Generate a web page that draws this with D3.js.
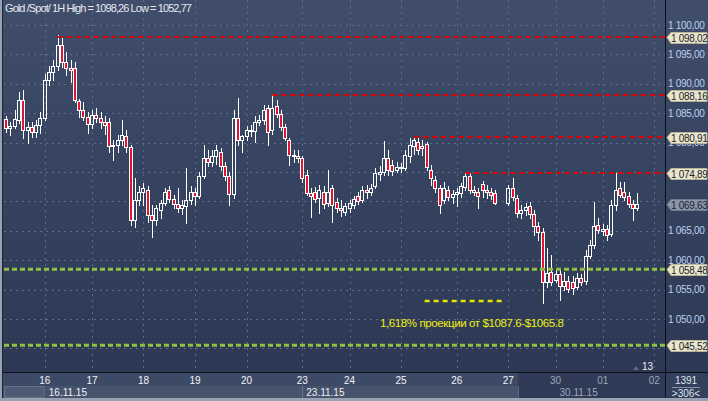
<!DOCTYPE html>
<html><head><meta charset="utf-8">
<script src="https://cdn.jsdelivr.net/npm/d3@7"></script>
<style>body{margin:0;background:#35425d}svg{display:block}text{font-family:"Liberation Sans",Arial,sans-serif}</style>
</head><body><svg id="c" width="708" height="401"></svg>
<script>
// ---- data (2-hour candles, Gold spot) ----
const opens = [1084.0,1082.5,1082.8,1083.8,1087.2,1082.1,1082.7,1081.8,1083.0,
1084.2,1090.7,1092.0,1093.0,1096.6,1093.7,1092.7,1092.7,1087.0,1085.6,1084.4,
1083.2,1084.7,1084.2,1083.5,1083.5,1079.4,1079.6,1080.4,1081.1,1079.3,1066.8,1070.2,
1071.6,1071.9,1067.7,1066.8,1068.5,1069.7,1071.9,1070.4,1069.6,1068.9,1069.2,1070.2,
1071.6,1070.9,1074.3,1077.4,1076.7,1077.7,1078.4,1076.0,1074.3,1071.3,1084.2,1080.4,
1081.1,1082.1,1082.0,1083.5,1083.8,1085.9,1082.1,1086.2,1084.9,1082.7,1080.4,1077.9,1077.7,
1077.4,1074.5,1071.4,1071.6,1070.6,1071.6,1069.7,1072.3,1069.9,1068.9,1068.2,
1068.9,1069.4,1070.9,1070.2,1071.9,1071.6,1072.6,1074.7,1075.0,1077.4,1076.2,1075.3,
1075.9,1075.7,1077.7,1079.4,1080.1,1079.4,1079.8,1075.3,1073.6,1072.3,1070.2,1071.9,1070.8,
1071.3,1071.4,1072.5,1074.3,1071.9,1071.6,1072.9,1071.9,1071.6,1071.4,null,null,
1069.7,1072.3,1070.6,1068.0,1068.5,1069.2,1067.9,1065.8,1064.8,1056.3,1058.0,
1056.6,1057.7,1055.6,1056.5,1056.3,1055.4,1057.0,1056.5,1060.7,1062.6,1066.0,
1065.0,1065.3,1064.5,1069.4,1072.3,1071.6,1070.9,1069.6,1068.9];
const highs = [1084.5,1083.5,1085.5,1088.6,1089.0,1083.5,1083.5,1083.8,1085.2,
1091.7,1093.0,1094.1,1098.26,1097.8,1095.4,1094.1,1093.7,1087.4,1086.9,1085.2,
1085.5,1085.9,1085.2,1084.5,1084.2,1080.4,1081.3,1083.8,1082.1,1079.6,1074.0,1072.6,
1073.1,1072.6,1069.4,1069.4,1070.2,1072.3,1072.6,1071.1,1072.3,1070.2,1075.7,1072.6,
1072.3,1075.0,1079.6,1078.7,1078.7,1079.6,1079.1,1076.7,1075.0,1085.5,1087.6,1081.3,
1082.8,1083.0,1084.5,1084.7,1086.4,1086.4,1088.16,1087.2,1085.5,1083.2,1080.8,1078.7,1078.7,
1077.7,1075.3,1072.3,1072.5,1072.8,1072.6,1075.3,1072.8,1070.6,1070.2,1069.7,
1070.2,1070.9,1071.6,1072.6,1072.8,1073.0,1075.7,1076.0,1080.3,1078.7,1077.0,1076.7,
1076.5,1078.7,1080.8,1080.91,1080.8,1080.4,1080.1,1076.2,1074.3,1072.8,1073.3,1072.6,1071.9,
1072.3,1073.1,1074.89,1074.8,1072.6,1072.3,1073.4,1072.8,1072.3,1071.9,null,null,
1072.8,1074.0,1071.1,1069.4,1069.7,1069.9,1068.5,1066.5,1065.5,1062.1,1060.9,
1058.3,1058.7,1058.0,1057.3,1057.3,1057.8,1057.7,1061.7,1063.4,1069.9,1067.2,
1066.2,1066.0,1070.2,1074.8,1073.3,1073.3,1071.6,1070.2,1071.4];
const lows = [1081.8,1081.3,1082.5,1083.3,1080.8,1079.9,1081.0,1081.0,1081.6,
1083.8,1089.8,1090.7,1092.4,1092.9,1091.5,1090.3,1086.9,1084.4,1083.8,1081.6,
1082.5,1083.5,1082.5,1081.5,1078.4,1077.0,1078.4,1079.6,1078.4,1066.0,1065.7,1069.4,
1069.4,1066.5,1063.9,1066.0,1067.2,1069.4,1069.9,1068.9,1068.2,1067.9,1066.3,1069.6,
1069.4,1070.6,1074.0,1076.0,1076.0,1076.4,1075.3,1073.6,1069.4,1070.6,1079.6,1078.4,
1080.4,1081.1,1080.1,1083.0,1083.2,1079.6,1081.5,1084.4,1082.1,1080.4,1076.2,1076.7,1076.7,
1073.3,1071.1,1067.4,1069.9,1068.0,1068.9,1069.2,1066.5,1068.2,1067.5,1067.7,
1068.2,1068.9,1069.6,1069.9,1070.6,1071.1,1072.3,1073.6,1074.5,1074.5,1074.5,1075.0,
1075.0,1075.3,1076.7,1078.1,1078.1,1077.9,1075.3,1072.8,1071.6,1068.0,1069.7,1070.2,1069.7,
1069.2,1070.8,1071.9,1071.4,1071.1,1068.9,1070.8,1070.6,1070.4,1069.6,null,null,
1069.4,1070.2,1067.4,1067.2,1067.7,1067.2,1064.3,1063.4,1052.77,1055.4,1055.8,
1056.3,1053.2,1054.9,1054.6,1054.3,1055.1,1055.8,1056.0,1060.4,1062.1,1064.6,
1064.3,1063.4,1064.1,1068.5,1070.8,1070.2,1069.0,1066.8,1068.5];
const closes = [1082.5,1082.8,1084.0,1087.2,1082.1,1082.7,1081.8,1083.0,1084.2,
1090.7,1092.0,1093.0,1096.6,1093.7,1092.7,1092.4,1087.2,1085.5,1084.4,1083.2,
1084.7,1084.2,1083.5,1083.0,1079.4,1079.6,1080.4,1081.3,1079.3,1066.8,1070.2,1071.6,
1072.3,1067.7,1066.8,1068.9,1069.7,1071.6,1070.4,1069.6,1068.9,1069.4,1070.2,1071.6,
1070.9,1074.3,1077.4,1076.7,1077.7,1078.7,1076.0,1074.3,1071.3,1084.2,1080.4,1081.1,
1082.1,1082.0,1083.5,1083.8,1085.5,1081.8,1085.9,1084.9,1082.7,1080.8,1077.9,1077.7,1077.4,
1074.0,1071.4,1070.9,1070.4,1071.9,1069.6,1071.6,1069.4,1068.9,1068.5,1069.2,
1069.7,1070.4,1070.1,1071.9,1071.6,1072.3,1074.8,1075.0,1077.4,1075.3,1075.2,1075.9,
1075.7,1077.9,1079.6,1080.4,1078.7,1079.1,1075.9,1074.0,1072.3,1069.4,1072.3,1070.8,1071.3,
1071.6,1072.6,1074.3,1071.9,1071.6,1070.9,1071.9,1071.6,1071.1,1069.7,null,null,
1072.3,1070.8,1068.0,1068.5,1069.0,1067.9,1065.8,1064.8,1056.3,1057.8,1056.3,
1057.7,1055.6,1056.5,1055.1,1055.3,1057.0,1056.3,1060.7,1062.6,1065.8,1065.1,
1065.3,1064.3,1069.4,1071.9,1071.1,1070.8,1069.6,1068.9,1069.63];

const dayLabels = ['16','17','18','19','20','23','24','25','26','27','30','01','02'];
const dayStart  = [9,20,32,44,56,69,80,92,105,117,128,139,151];
const weekLabels = ['16.11.15','23.11.15','30.11.15'];
const weekStart  = [9,69,128];
const yTicks = [1045,1050,1055,1060,1065,1070,1075,1080,1085,1090,1095,1100];
const resistance = [1098.02,1088.16,1080.91,1074.89];
const resistanceFrom = [12,62,95,107];
const support = [1058.48,1045.52];
const lastPrice = 1069.63;
const projLevel = 1053.0, projFrom = 98, projTo = 116;
const projText = '1,618% проекции от $1087.6-$1065.8';
const titleText = 'Gold /Spot/ 1H High = 1098,26 Low = 1052,77';
const barsTotal = '1391', barsVisible = '>306<', indicatorLabel = '13';

// ---- layout ----
const W = 708, H = 401, PL = 4, PR = 665, PB = 372, slots = 154;
const svg = d3.select('#c');
const x = d3.scaleLinear().domain([0, slots]).range([PL, PR]);
const cx = i => x(i + 0.5);
const y = d3.scaleLinear().domain([1050, 1100]).range([319, 25]);
const fmt = v => d3.format(',.2f')(v).replace(/,/g, ' ').replace('.', ',');

const defs = svg.append('defs');
const gr = defs.append('linearGradient').attr('id','bg').attr('x1',0).attr('x2',0).attr('y1',0).attr('y2',1);
gr.append('stop').attr('offset','0%').attr('stop-color','#404e6b');
gr.append('stop').attr('offset','100%').attr('stop-color','#2c3854');
svg.append('rect').attr('width',W).attr('height',PB).attr('fill','url(#bg)');

// bottom axis area
svg.append('rect').attr('x',0).attr('y',PB).attr('width',W).attr('height',H-PB).attr('fill','#3d4a65');
svg.append('rect').attr('x',x(weekStart[0]+0.5)).attr('y',386).attr('width',518-x(weekStart[0]+0.5)).attr('height',12).attr('fill','#46536d');
svg.append('rect').attr('x',4.5).attr('y',386.5).attr('width',x(weekStart[0]+0.5)-5).attr('height',11).attr('fill','#4e5b74').attr('stroke','#66728a');
svg.append('rect').attr('x',518).attr('y',PB).attr('width',PR-518).attr('height',398-PB).attr('fill','#2f3b56');
svg.append('line').attr('x1',518.5).attr('x2',518.5).attr('y1',386).attr('y2',398).attr('stroke','#5a6680');
svg.append('line').attr('x1',Math.round(cx(weekStart[1]))+0.5).attr('x2',Math.round(cx(weekStart[1]))+0.5).attr('y1',386).attr('y2',398).attr('stroke','#6a7690');
svg.append('rect').attr('x',PR).attr('y',PB).attr('width',W-PR).attr('height',398-PB).attr('fill','#33405b');

// grid
const grid = svg.append('g').attr('stroke','#5b6b8b').attr('stroke-dasharray','2,4').attr('stroke-width',1);
yTicks.forEach(v => grid.append('line').attr('x1',PL).attr('x2',PR).attr('y1',Math.round(y(v))+0.5).attr('y2',Math.round(y(v))+0.5));
dayStart.forEach(i => grid.append('line').attr('x1',Math.round(cx(i))+0.5).attr('x2',Math.round(cx(i))+0.5).attr('y1',0).attr('y2',PB));

// candles
const cg = svg.append('g');
opens.forEach((o, i) => {
  if (o == null) return;
  const h = highs[i], l = lows[i], c = closes[i];
  const px = Math.round(cx(i)) - 2;
  const yh = Math.round(y(h)), yl = Math.round(y(l));
  let yt = Math.round(y(Math.max(o, c))), yb = Math.round(y(Math.min(o, c)));
  if (yb - yt < 1) yb = yt + 1;
  cg.append('line').attr('x1',px+2.5).attr('x2',px+2.5).attr('y1',yh).attr('y2',yt).attr('stroke','#fff');
  cg.append('line').attr('x1',px+2.5).attr('x2',px+2.5).attr('y1',yb).attr('y2',yl+1).attr('stroke','#fff');
  cg.append('rect').attr('x',px+0.5).attr('y',yt+0.5).attr('width',3).attr('height',yb-yt)
    .attr('fill', c < o ? '#e5132e' : 'none').attr('stroke','#fff').attr('stroke-width',1);
});

// levels
support.forEach(v => svg.append('line').attr('x1',PL).attr('x2',PR).attr('y1',y(v)).attr('y2',y(v))
  .attr('stroke','#8fc13f').attr('stroke-width',3).attr('stroke-dasharray','5,3'));
resistance.forEach((v, k) => svg.append('line').attr('x1',cx(resistanceFrom[k])).attr('x2',PR).attr('y1',Math.round(y(v))).attr('y2',Math.round(y(v)))
  .attr('stroke','#e00000').attr('stroke-width',2).attr('stroke-dasharray','5,4'));
svg.append('line').attr('x1',x(projFrom)).attr('x2',x(projTo)).attr('y1',Math.round(y(projLevel))).attr('y2',Math.round(y(projLevel)))
  .attr('stroke','#e6e600').attr('stroke-width',2.5).attr('stroke-dasharray','5,4');
svg.append('text').attr('x',380).attr('y',327).attr('fill','#eeee10').attr('font-size',11.5).attr('textLength',184).text(projText);

// frame lines
svg.append('line').attr('x1',3).attr('x2',W).attr('y1',PB+0.5).attr('y2',PB+0.5).attr('stroke','#0a0f1a');
svg.append('line').attr('x1',PR+0.5).attr('x2',PR+0.5).attr('y1',0).attr('y2',398).attr('stroke','#0a0f1a');
svg.append('rect').attr('x',0).attr('y',0).attr('width',2).attr('height',H).attr('fill','#98a2b3');
svg.append('line').attr('x1',2.5).attr('x2',2.5).attr('y1',0).attr('y2',398).attr('stroke','#1c2436');
svg.append('rect').attr('x',0).attr('y',398).attr('width',W).attr('height',3).attr('fill','#98a2b3');

// title
svg.append('text').attr('x',5).attr('y',12).attr('fill','#e6e8ee').attr('font-size',11).attr('textLength',187).text(titleText);

// right axis labels (those fully covered by a price tag are hidden, as in the reference)
const tagLevels = resistance.concat(support, [lastPrice]);
const ax = svg.append('g');
yTicks.filter(v => tagLevels.every(t => Math.abs(y(t) - y(v)) > 5))
  .forEach(v => ax.append('text').attr('x',668).attr('y',y(v)+3.5).attr('fill','#bcd0ee').attr('font-size',10).attr('letter-spacing',-0.3).text(fmt(v)));

function tag(v, fill, stroke) {
  const yy = Math.round(y(v)) + 0.5;
  ax.append('path').attr('d',`M${PR+2},${yy} L${PR+6},${yy-5} L${W-1},${yy-5} L${W-1},${yy+6} L${PR+6},${yy+6} Z`)
    .attr('fill',fill).attr('stroke',stroke);
  ax.append('text').attr('x',PR+6).attr('y',yy+4).attr('fill','#1c2230').attr('font-size',10).attr('letter-spacing',-0.3).text(fmt(v));
}
resistance.forEach(v => tag(v,'#e9e6cb','#b8b49a'));
support.forEach(v => tag(v,'#e9e6cb','#b8b49a'));
tag(lastPrice,'#8995a8','#6c788c');

// indicator marker
svg.append('path').attr('d','M633,370 L636,366 L639,370 Z').attr('fill','#5f6c84');
svg.append('text').attr('x',642).attr('y',370).attr('fill','#f0f0f0').attr('font-size',10).text(indicatorLabel);

// bottom labels
dayLabels.forEach((t, k) => svg.append('text').attr('x',cx(dayStart[k])).attr('y',384).attr('text-anchor','middle')
  .attr('font-size',10).attr('fill', dayStart[k] >= 128 ? '#9aa6ba' : '#f2f4f8').text(t));
weekLabels.forEach((t, k) => svg.append('text').attr('x',cx(weekStart[k])+4).attr('y',396)
  .attr('font-size',10).attr('fill', k == 2 ? '#9aa6ba' : '#eef0f4').text(t));
svg.append('text').attr('x',686).attr('y',384).attr('text-anchor','middle').attr('font-size',10).attr('fill','#dfe4ee').text(barsTotal);
svg.append('line').attr('x1',672).attr('x2',700).attr('y1',387.5).attr('y2',387.5).attr('stroke','#8390a8');
svg.append('text').attr('x',686).attr('y',397).attr('text-anchor','middle').attr('font-size',10).attr('fill','#dfe4ee').text(barsVisible);
</script></body></html>
